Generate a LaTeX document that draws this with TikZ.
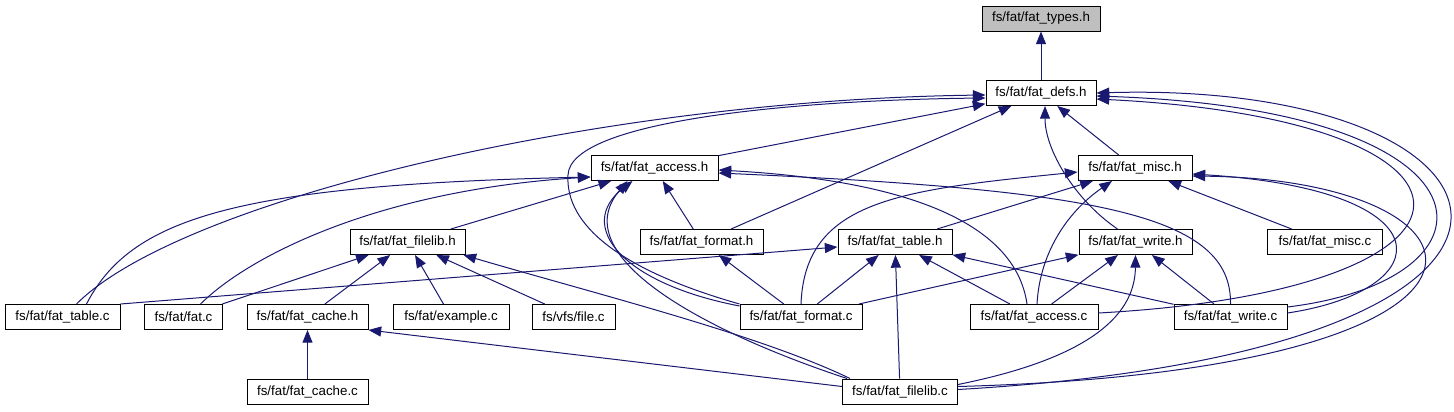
\documentclass[tikz,border=0pt]{standalone}
\usepackage{fontspec}
\setmainfont{Liberation Sans}
\usepackage{tikz}
\usetikzlibrary{arrows.meta,calc}
\definecolor{edgeblue}{HTML}{191970}

\begin{document}
\begin{tikzpicture}[
  x=0.75pt, y=-0.75pt,
  fbox/.style={draw=black, fill=white, line width=0.75pt, inner sep=0pt,
              minimum height=18.75pt, minimum width=#1*0.75pt,
              font=\fontsize{10}{12}\selectfont},
  root/.style={fbox=#1, fill=black!25},
  dep/.style={-{Triangle[length=9.5pt,width=7.5pt]}, edgeblue, line width=0.75pt}
]
\useasboundingbox (0,0) rectangle (1454,411);
\node[root=118] (types) at (1041,18.5) {fs/fat/fat\_types.h};
\node[fbox=110] (defs) at (1041,93) {fs/fat/fat\_defs.h};
\node[fbox=127] (acch) at (654.5,168) {fs/fat/fat\_access.h};
\node[fbox=114] (misch) at (1135,168) {fs/fat/fat\_misc.h};
\node[fbox=115] (filelibh) at (407.5,242) {fs/fat/fat\_filelib.h};
\node[fbox=123] (formath) at (701.5,242) {fs/fat/fat\_format.h};
\node[fbox=114] (tableh) at (895,242) {fs/fat/fat\_table.h};
\node[fbox=113] (writeh) at (1135.5,242) {fs/fat/fat\_write.h};
\node[fbox=115] (miscc) at (1325,242) {fs/fat/fat\_misc.c};
\node[fbox=115] (tablec) at (62.5,317) {fs/fat/fat\_table.c};
\node[fbox=78] (fatc) at (183.5,317) {fs/fat/fat.c};
\node[fbox=121] (cacheh) at (307.5,317) {fs/fat/fat\_cache.h};
\node[fbox=116] (examplec) at (451,317) {fs/fat/example.c};
\node[fbox=83] (filec) at (573.5,317) {fs/vfs/file.c};
\node[fbox=122] (formatc) at (801,317) {fs/fat/fat\_format.c};
\node[fbox=128] (accessc) at (1034,317) {fs/fat/fat\_access.c};
\node[fbox=113] (writec) at (1230.5,317) {fs/fat/fat\_write.c};
\node[fbox=121] (cachec) at (307.5,391.5) {fs/fat/fat\_cache.c};
\node[fbox=115] (filelibc) at (900,391.5) {fs/fat/fat\_filelib.c};
\draw[dep] (defs) -- (types);
\draw[dep] (acch) -- (defs);
\draw[dep] (misch) -- (defs);
\draw[dep] (formath) -- (defs);
\draw[dep] ($(writeh.north)+(-18,0)$) .. controls (1075,200) and (1045,150) .. ($(defs.south)+(4,0)$);
\draw[dep] ($(tablec.north)+(14,0)$) .. controls (180,200) and (600,100) .. ($(defs.west)+(0,2)$);
\draw[dep] (formatc.north west) .. controls (620,270) and (565,225) .. (568,175)
  .. controls (570,120) and (800,100) .. ($(defs.west)+(0,5)$);
\draw[dep] ($(accessc.east)+(0,-4)$) .. controls (1517,290) and (1517,120) .. ($(defs.east)+(0,6)$);
\draw[dep] ($(writec.east)+(0,-10)$) .. controls (1510,280) and (1510,110) .. ($(defs.east)+(0,3)$);
\draw[dep] ($(filelibc.east)+(0,-2)$) .. controls (1640,350) and (1540,80) .. (defs.east);
\draw[dep] ($(tablec.north)+(24,0)$) .. controls (130,220) and (230,185) .. ($(acch.west)+(0,9)$);
\draw[dep] ($(fatc.north)+(17,0)$) .. controls (250,255) and (380,190) .. ($(acch.west)+(0,9)$);
\draw[dep] (filelibh) -- (acch);
\draw[dep] (formath) -- (acch);
\draw[dep] ($(formatc.north west)+(0,2)$) .. controls (620,283) and (576,225) .. ($(acch.south)+(-22,0)$);
\draw[dep] ($(filelibc.north west)+(5,0)$) .. controls (700,330) and (565,255) .. ($(acch.south)+(-27,0)$);
\draw[dep] ($(accessc.north)+(-7,0)$) .. controls (1015,220) and (900,180) .. ($(acch.east)+(0,2)$);
\draw[dep] (writec.north) .. controls (1232,215) and (1100,190) .. ($(acch.east)+(0,5)$);
\draw[dep] (tableh) -- (misch);
\draw[dep] (formatc.north) .. controls (805,200) and (900,190) .. ($(misch.west)+(0,4)$);
\draw[dep] ($(accessc.north)+(3,0)$) .. controls (1040,250) and (1070,210) .. ($(misch.south)+(-23,0)$);
\draw[dep] (miscc) -- (misch);
\draw[dep] ($(writec.east)+(0,-4)$) .. controls (1440,290) and (1450,190) .. ($(misch.east)+(0,6)$);
\draw[dep] ($(filelibc.east)+(0,-5)$) .. controls (1560,370) and (1510,180) .. ($(misch.east)+(0,8)$);
\draw[dep] (fatc) -- (filelibh);
\draw[dep] (cacheh) -- (filelibh);
\draw[dep] (examplec) -- (filelibh);
\draw[dep] (filec) -- (filelibh);
\draw[dep] ($(filelibc.north west)+(8,0)$) .. controls (760,335) and (600,295) .. ($(filelibh.south east)+(-2,0)$);
\draw[dep] (formatc) -- (formath);
\draw[dep] (tablec.north east) -- ($(tableh.west)+(0,5)$);
\draw[dep] (formatc) -- (tableh);
\draw[dep] (filelibc) -- (tableh);
\draw[dep] (accessc) -- (tableh);
\draw[dep] (writec) -- (tableh);
\draw[dep] (formatc) -- (writeh);
\draw[dep] (accessc) -- (writeh);
\draw[dep] ($(filelibc.east)+(0,-7)$) .. controls (1080,360) and (1135,320) .. (writeh.south);
\draw[dep] (writec) -- (writeh);
\draw[dep] (cachec) -- (cacheh);
\draw[dep] ($(filelibc.west)+(0,-5)$) -- (cacheh.south east);
\end{tikzpicture}
\end{document}
